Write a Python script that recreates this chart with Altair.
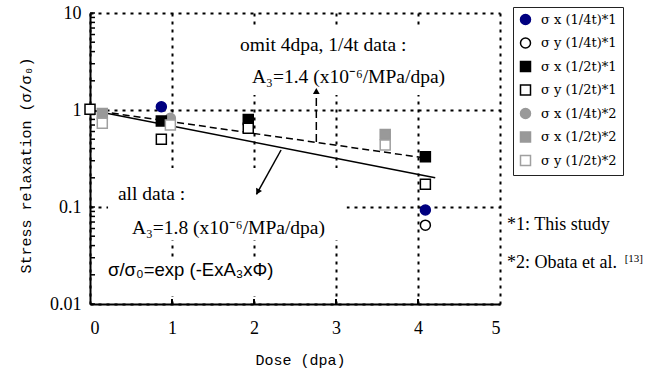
import altair as alt
import pandas as pd

# ---------------- data ----------------
series_names = ["σ x (1/4t)*1", "σ y (1/4t)*1", "σ x (1/2t)*1", "σ y (1/2t)*1",
                "σ x (1/4t)*2", "σ x (1/2t)*2", "σ y (1/2t)*2"]
fill_colors = ["#000080", "#ffffff", "#000000", "#ffffff", "#999999", "#999999", "#ffffff"]
stroke_colors = ["#000080", "#000000", "#000000", "#000000", "#999999", "#999999", "#a0a0a0"]
shapes = ["circle", "circle", "square", "square", "circle", "square", "square"]

# points (filled symbols first, open symbols drawn on top)
pt_series = ["σ x (1/2t)*2", "σ x (1/2t)*2",
             "σ x (1/4t)*2",
             "σ x (1/4t)*1", "σ x (1/4t)*1",
             "σ x (1/2t)*1", "σ x (1/2t)*1", "σ x (1/2t)*1",
             "σ y (1/2t)*2", "σ y (1/2t)*2", "σ y (1/2t)*2",
             "σ y (1/2t)*1", "σ y (1/2t)*1", "σ y (1/2t)*1", "σ y (1/2t)*1",
             "σ y (1/4t)*1"]
pt_dose = [0.15, 3.6,
           0.98,
           0.87, 4.09,
           0.87, 1.93, 4.09,
           0.15, 0.98, 3.6,
           0.0, 0.87, 1.93, 4.09,
           4.09]
pt_value = [0.92, 0.56,
            0.82,
            1.08, 0.093,
            0.77, 0.80, 0.33,
            0.73, 0.70, 0.435,
            1.02, 0.50, 0.65, 0.172,
            0.065]

# fit lines
fit_all_dose = [0.0, 4.21]
fit_all_value = [1.0, 0.20]
fit_omit_dose = [0.0, 4.09]
fit_omit_value = [1.0, 0.32]

# axis values
x_ticks = [0, 1, 2, 3, 4, 5]
y_major = [0.01, 0.1, 1, 10]
y_minor = [m * d for d in (0.01, 0.1, 1) for m in range(2, 10)]
x_inner_ticks = [1, 2, 3, 4]

# annotation texts
serif_text = ["omit 4dpa, 1/4t data :", "A₃=1.4 (x10⁻⁶/MPa/dpa)",
              "all data :", "A₃=1.8 (x10⁻⁶/MPa/dpa)"]
serif_x = [1.83, 1.976, 0.341, 0.512]
serif_y = [4.68, 2.19, 0.136, 0.0608]
note_text = ["*1: This study", "*2: Obata et al."]
note_x = [5.085, 5.085]
note_y = [0.0652, 0.0265]
formula_text = ["σ/σ₀=exp (-ExA₃xΦ)"]
formula_x = [0.22]
formula_y = [0.0224]
ref_text = ["[13]"]
ref_x = [6.52]
ref_y = [0.0290]

# white backgrounds of the text boxes
box_x0 = [1.77, 0.22, 0.12]
box_x1 = [4.33, 3.13, 2.34]
box_y0 = [7.52, 0.252, 0.0305]
box_y1 = [1.43, 0.0457, 0.0121]

# arrows
arrow1_dose = [2.76, 2.76]
arrow1_value = [0.468, 1.46]
arrow1_head = (2.76, 1.57, 0)
arrow2_dose = [2.33, 2.03]
arrow2_value = [0.387, 0.135]
arrow2_head = (2.045, 0.143, 208)

# ---------------- chart ----------------
xscale = alt.Scale(domain=[0, 5], nice=False, zero=False)
yscale = alt.Scale(type="log", domain=[0.01, 10], nice=False)

common_axis = dict(labelFont="Liberation Serif", labelFontSize=18, labelColor="black",
                   titleFont="Liberation Mono", titleFontSize=15, titleFontWeight="normal",
                   titleColor="black", domainColor="black", domainWidth=2,
                   ticks=False, tickSize=0, grid=True, gridColor="black",
                   gridDash=[3, 5], gridWidth=2, gridOpacity=1)

xaxis = alt.Axis(values=x_ticks, format="d", labelPadding=15, title="Dose (dpa)",
                 titleX=210, titleY=55, titleBaseline="middle", **common_axis)
yaxis = alt.Axis(values=y_major, format="~g", labelPadding=9, title="Stress relaxation (σ/σ₀)",
                 titleX=-65, titleY=152, titleBaseline="middle", titleAngle=270, **common_axis)


def X(f):
    return alt.X(f, type="quantitative", scale=xscale, axis=xaxis)


def Y(f):
    return alt.Y(f, type="quantitative", scale=yscale, axis=yaxis)


boxes = alt.Chart(pd.DataFrame({"x0": box_x0, "x1": box_x1, "y0": box_y0, "y1": box_y1})).mark_rect(
    fill="white").encode(x=X("x0"), x2="x1", y=Y("y0"), y2="y1")

yticks = alt.Chart(pd.DataFrame({"v": y_minor + y_major})).mark_rule(
    color="black", strokeWidth=1.5).encode(y=Y("v"), x=alt.value(0), x2=alt.value(5))

xticks = alt.Chart(pd.DataFrame({"d": x_inner_ticks})).mark_rule(
    color="black", strokeWidth=2).encode(x=X("d"), y=alt.value(291), y2=alt.value(286))

line_all = alt.Chart(pd.DataFrame({"d": fit_all_dose, "v": fit_all_value})).mark_line(
    color="black", strokeWidth=1.5).encode(x=X("d"), y=Y("v"))

line_omit = alt.Chart(pd.DataFrame({"d": fit_omit_dose, "v": fit_omit_value})).mark_line(
    color="black", strokeWidth=1.5, strokeDash=[7, 4]).encode(x=X("d"), y=Y("v"))

arr1 = alt.Chart(pd.DataFrame({"d": arrow1_dose, "v": arrow1_value})).mark_line(
    color="black", strokeWidth=1.5, strokeDash=[8, 4]).encode(x=X("d"), y=Y("v"))
arr2 = alt.Chart(pd.DataFrame({"d": arrow2_dose, "v": arrow2_value})).mark_line(
    color="black", strokeWidth=1.5).encode(x=X("d"), y=Y("v"))
heads = alt.Chart(pd.DataFrame({"d": [arrow1_head[0], arrow2_head[0]],
                                "v": [arrow1_head[1], arrow2_head[1]],
                                "a": [arrow1_head[2], arrow2_head[2]]})).mark_point(
    shape="triangle-up", filled=True, color="black", size=45, opacity=1).encode(
    x=X("d"), y=Y("v"), angle=alt.Angle("a:Q", scale=None))

legend = alt.Legend(title=None, orient="none", legendX=423, legendY=-6, padding=6,
                    strokeColor="#222222", fillColor="white",
                    labelFont="DejaVu Serif", labelFontSize=13, labelColor="black",
                    symbolSize=100, symbolStrokeWidth=1.5, symbolOpacity=1,
                    rowPadding=6.5, labelOffset=9)

points = alt.Chart(pd.DataFrame({"d": pt_dose, "v": pt_value, "s": pt_series})).mark_point(
    filled=True, opacity=1, size=100, strokeWidth=1.5).encode(
    x=X("d"), y=Y("v"),
    fill=alt.Fill("s:N", scale=alt.Scale(domain=series_names, range=fill_colors), legend=legend),
    stroke=alt.Stroke("s:N", scale=alt.Scale(domain=series_names, range=stroke_colors), legend=legend),
    shape=alt.Shape("s:N", scale=alt.Scale(domain=series_names, range=shapes), legend=legend),
)

t_serif = alt.Chart(pd.DataFrame({"d": serif_x, "v": serif_y, "t": serif_text})).mark_text(
    font="Liberation Serif", fontSize=19.5, align="left", baseline="middle", color="black").encode(
    x=X("d"), y=Y("v"), text="t")
t_note = alt.Chart(pd.DataFrame({"d": note_x, "v": note_y, "t": note_text})).mark_text(
    font="Liberation Serif", fontSize=18, align="left", baseline="middle", color="black").encode(
    x=X("d"), y=Y("v"), text="t")
t_formula = alt.Chart(pd.DataFrame({"d": formula_x, "v": formula_y, "t": formula_text})).mark_text(
    font="Liberation Sans", fontSize=18.5, align="left", baseline="middle", color="black").encode(
    x=X("d"), y=Y("v"), text="t")
t_ref = alt.Chart(pd.DataFrame({"d": ref_x, "v": ref_y, "t": ref_text})).mark_text(
    font="Liberation Serif", fontSize=11, align="left", baseline="middle", color="black").encode(
    x=X("d"), y=Y("v"), text="t")

chart = alt.layer(boxes, yticks, xticks, line_all, line_omit, arr1, arr2, heads, points,
                  t_serif, t_note, t_formula, t_ref).properties(
    width=410, height=291,
    autosize=alt.AutoSizeParams(type="none"),
    padding={"left": 90, "top": 13, "right": 153, "bottom": 70},
    background="white",
).configure_view(stroke=None).configure_axis(
    labelFont="Liberation Serif", labelFontSize=18,
)

chart.save("out.html", embed_options={"renderer": "svg", "actions": False})
